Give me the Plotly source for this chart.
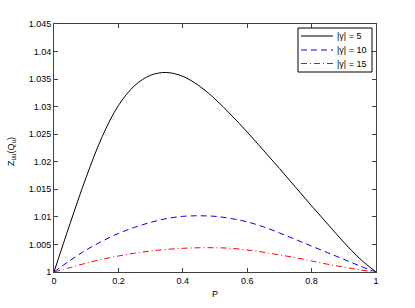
import plotly.graph_objects as go

P = [0, 0.05, 0.1, 0.15, 0.2, 0.25, 0.3, 0.35, 0.4, 0.45, 0.5,
     0.55, 0.6, 0.65, 0.7, 0.75, 0.8, 0.85, 0.9, 0.95, 1.0]
z_g5 = [1, 1.0088, 1.0172, 1.0246, 1.0302, 1.0338, 1.0357, 1.0362, 1.0355, 1.0338, 1.0314,
        1.0285, 1.0254, 1.0221, 1.0188, 1.0154, 1.0120, 1.0087, 1.0054, 1.0024, 1.0]
z_g10 = [1, 1.0021, 1.0040, 1.0056, 1.0070, 1.0081, 1.0090, 1.0097, 1.0101, 1.0102, 1.0101,
         1.0097, 1.0091, 1.0082, 1.0071, 1.0059, 1.0047, 1.0035, 1.0023, 1.0011, 1.0]
z_g15 = [1, 1.0008, 1.0016, 1.0023, 1.0029, 1.0034, 1.0038, 1.0041, 1.0043, 1.0044, 1.0044,
         1.0043, 1.0040, 1.0036, 1.0031, 1.0026, 1.0020, 1.0014, 1.0009, 1.0004, 1.0]
names = ["|γ| = 5", "|γ| = 10", "|γ| = 15"]
x_ticks = [0, 0.2, 0.4, 0.6, 0.8, 1]
y_ticks = [1, 1.005, 1.01, 1.015, 1.02, 1.025, 1.03, 1.035, 1.04, 1.045]

W, H = 415, 308
L, R, T, B = 54, 39, 24, 36
PW, PH = W - L - R, H - T - B


def px(x):
    return (x - L) / PW


def py(y):
    return (H - B - y) / PH


fig = go.Figure()
styles = [("black", "solid"), ("#0000ff", "6px,4px"), ("#ff0000", "6px,3px,1px,3px")]
for ys, name, (c, d) in zip([z_g5, z_g10, z_g15], names, styles):
    fig.add_trace(go.Scatter(x=P, y=ys, mode="lines", name=name, showlegend=False,
                             line=dict(color=c, width=1, dash=d, shape="spline", smoothing=1.0)))

axis_common = dict(showline=True, linecolor="#404040", linewidth=1, mirror="ticks",
                   ticks="inside", ticklen=4, tickcolor="#404040", showgrid=False,
                   zeroline=False, automargin=False, tickfont=dict(size=9, color="black"))
fig.update_layout(
    width=W, height=H,
    margin=dict(l=L, r=R, t=T, b=B),
    paper_bgcolor="white", plot_bgcolor="white",
    font=dict(family="Liberation Sans, Arial, sans-serif", size=9, color="black"),
    xaxis=dict(range=[0, 1], tickvals=x_ticks, ticktext=[f"{v:g}" for v in x_ticks],
               **axis_common),
    yaxis=dict(range=[1, 1.045], tickvals=y_ticks, ticktext=[f"{v:g}" for v in y_ticks],
               **axis_common),
    showlegend=False,
)

# legend box (manual, to match compact layout)
fig.add_shape(type="rect", xref="paper", yref="paper", x0=px(298), x1=px(372),
              y0=py(72), y1=py(28), line=dict(color="black", width=1), fillcolor="white",
              layer="above")
rows = [36, 50, 63.5]
for (c, d), name, ry in zip(styles, names, rows):
    fig.add_shape(type="line", xref="paper", yref="paper", x0=px(301), x1=px(333),
                  y0=py(ry), y1=py(ry), line=dict(color=c, width=1, dash=d), layer="above")
    fig.add_annotation(text=name, xref="paper", yref="paper", x=px(335), y=py(ry),
                       xanchor="left", yanchor="middle", showarrow=False,
                       font=dict(size=9, color="black"))

fig.add_annotation(text="Z<sub>uu</sub>(Q<sub>u</sub>)", xref="paper", yref="paper",
                   x=px(11), y=py(152), textangle=-90, showarrow=False,
                   xanchor="center", yanchor="middle", font=dict(size=9))
fig.add_annotation(text="P", xref="paper", yref="paper",
                   x=px(215), y=py(293.5), showarrow=False,
                   xanchor="center", yanchor="middle", font=dict(size=9))
fig.write_html("out.html", config={"displayModeBar": False},
               post_script="document.body.style.margin='0';document.body.style.overflow='hidden';")
